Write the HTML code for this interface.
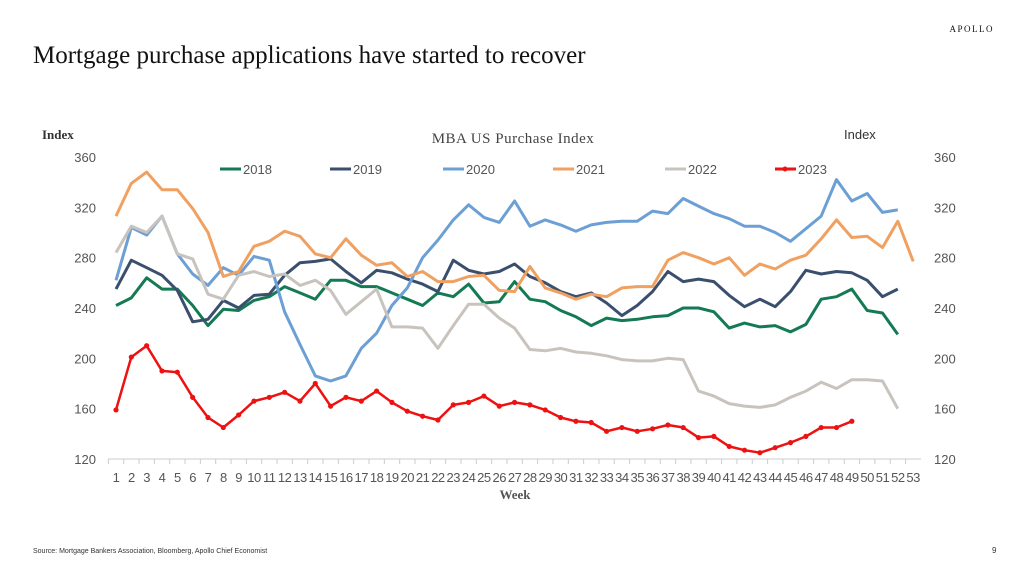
<!DOCTYPE html>
<html><head><meta charset="utf-8"><style>
body{margin:0;background:#fff;width:1024px;height:576px;overflow:hidden;font-family:"Liberation Sans",sans-serif}
svg{position:absolute;left:0;top:0}
</style></head><body>
<svg width="1024" height="576">
<text x="33" y="63" font-family="Liberation Serif,serif" font-size="25" fill="#111">Mortgage purchase applications have started to recover</text>
<text x="994" y="32" font-family="Liberation Serif,serif" font-size="9" letter-spacing="1.5" text-anchor="end" fill="#111">APOLLO</text>
<text x="513" y="143" font-family="Liberation Serif,serif" font-size="15" letter-spacing="0.5" text-anchor="middle" fill="#444">MBA US Purchase Index</text>
<text x="42" y="139" font-family="Liberation Serif,serif" font-size="13" font-weight="bold" fill="#333">Index</text>
<text x="844" y="139" font-size="13" fill="#333">Index</text>
<text x="515" y="499" font-family="Liberation Serif,serif" font-size="13" font-weight="bold" text-anchor="middle" fill="#555">Week</text>
<text x="33" y="553" font-size="7" fill="#333">Source: Mortgage Bankers Association, Bloomberg, Apollo Chief Economist</text>
<text x="992" y="553" font-size="8" fill="#333">9</text>
<g id="axes"></g><g id="series"></g><g id="legend"></g>
</svg>
<script>
const yTicks=[120,160,200,240,280,320,360];
const years=["2018","2019","2020","2021","2022","2023"];
const colors=["#137a54","#3a4f6e","#6c9fd4","#f0a060","#c9c3bd","#ee1111"];
const s2018=[242,248,264,255,255,242,226,239,238,246,249,257,252,247,262,262,257,257,252,247,242,252,249,259,244,245,261,247,245,238,233,226,232,230,231,233,234,240,240,237,224,228,225,226,221,227,247,249,255,238,236,219];
const s2019=[255,278,272,266,254,229,231,246,240,250,251,266,276,277,279,269,260,270,268,263,259,253,278,270,267,269,275,265,260,253,249,252,244,234,242,253,269,261,263,261,250,241,247,241,253,270,267,269,268,262,249,255];
const s2020=[262,304,298,313,283,267,258,272,266,281,278,237,211,186,182,186,208,220,242,256,280,294,310,322,312,308,325,305,310,306,301,306,308,309,309,317,315,327,321,315,311,305,305,300,293,303,313,342,325,331,316,318];
const s2021=[313,339,348,334,334,319,300,265,269,289,293,301,297,283,280,295,282,274,276,265,269,261,261,265,266,254,253,273,256,252,247,251,249,256,257,257,278,284,280,275,280,266,275,271,278,282,295,310,296,297,288,309,277];
const s2022=[284,305,300,313,283,279,251,247,266,269,265,267,258,262,254,235,245,255,225,225,224,208,226,243,243,232,224,207,206,208,205,204,202,199,198,198,200,199,174,170,164,162,161,163,169,174,181,176,183,183,182,160];
const s2023=[159,201,210,190,189,169,153,145,155,166,169,173,166,180,162,169,166,174,165,158,154,151,163,165,170,162,165,163,159,153,150,149,142,145,142,144,147,145,137,138,130,127,125,129,133,138,145,145,150];
const weeks=Array.from({length:53},(_,i)=>String(i+1));
const allSeries=[s2018,s2019,s2020,s2021,s2022,s2023];
const NS="http://www.w3.org/2000/svg";
const xS=w=>116+(w-1)*15.33;
const yS=v=>459-(v-120)*302/240;
function mk(t,a,p){const e=document.createElementNS(NS,t);for(const k in a)e.setAttribute(k,a[k]);p.appendChild(e);return e;}
const ax=document.getElementById('axes');
yTicks.forEach(v=>{
 let t=mk('text',{x:96,y:yS(v)+5,'text-anchor':'end','font-size':13,fill:'#555'},ax);t.textContent=v;
 
 
 let r=mk('text',{x:934,y:yS(v)+5,'font-size':13,fill:'#555'},ax);r.textContent=v;
 
 
});
let base=mk('line',{x1:108,x2:921,y1:459,y2:459,stroke:'#ccc'},ax);


weeks.forEach((w,i)=>{
 let tk=mk('line',{x1:xS(i+1)-7.6,x2:xS(i+1)-7.6,y1:459,y2:464,stroke:'#ccc'},ax);
 
 
 let t=mk('text',{x:xS(i+1),y:482,'text-anchor':'middle','font-size':13,fill:'#555','letter-spacing':'-0.5'},ax);t.textContent=w;
 
 
});
const sg=document.getElementById('series');
allSeries.forEach((s,k)=>{
 const pts=s.map((v,i)=>xS(i+1).toFixed(1)+','+yS(v).toFixed(1)).join(' ');
 let pl=mk('polyline',{points:pts,fill:'none',stroke:colors[k],'stroke-width':k==5?2.5:3,'stroke-linejoin':'round'},sg);
 
 
 if(k==5)s.forEach((v,i)=>{let c=mk('circle',{cx:xS(i+1),cy:yS(v),r:2.6,fill:colors[k]},sg);
  
  });
});
const lg=document.getElementById('legend');
const lx=[220,330,443,553,665,775];
years.forEach((y,k)=>{
 let l=mk('line',{x1:lx[k],x2:lx[k]+21,y1:169,y2:169,stroke:colors[k],'stroke-width':3},lg);
 
 
 if(k==5){let c=mk('circle',{cx:lx[k]+10,cy:169,r:2.5,fill:colors[k]},lg);
  
  }
 let t=mk('text',{x:lx[k]+23,y:174,'font-size':13,fill:'#555'},lg);t.textContent=y;
 
 
});
</script>
</body></html>
